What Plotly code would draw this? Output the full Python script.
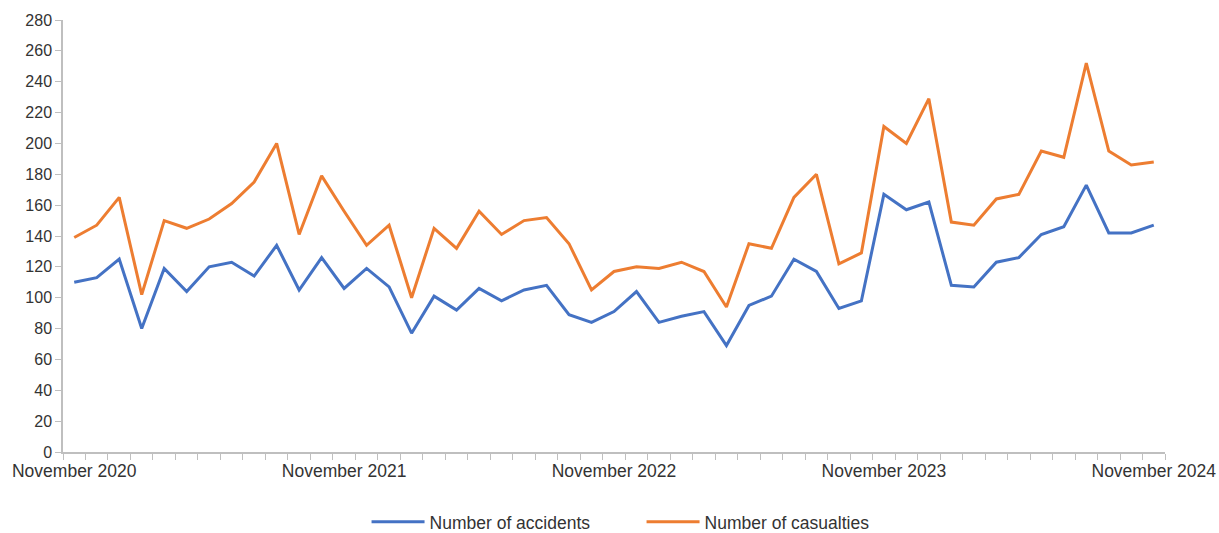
import plotly.graph_objects as go

months = [f"{m} {y}" for y, ms in [(2020, ["November", "December"]),
                                    (2021, ["January", "February", "March", "April", "May", "June", "July", "August", "September", "October", "November", "December"]),
                                    (2022, ["January", "February", "March", "April", "May", "June", "July", "August", "September", "October", "November", "December"]),
                                    (2023, ["January", "February", "March", "April", "May", "June", "July", "August", "September", "October", "November", "December"]),
                                    (2024, ["January", "February", "March", "April", "May", "June", "July", "August", "September", "October", "November"])]
          for m in ms]

accidents = [110, 113, 125, 80, 119, 104, 120, 123, 114, 134, 105, 126,
             106, 119, 107, 77, 101, 92, 106, 98, 105, 108, 89, 84,
             91, 104, 84, 88, 91, 69, 95, 101, 125, 117, 93, 98,
             167, 157, 162, 108, 107, 123, 126, 141, 146, 173, 142, 142,
             147]

casualties = [139, 147, 165, 102, 150, 145, 151, 161, 175, 200, 141, 179,
              156, 134, 147, 100, 145, 132, 156, 141, 150, 152, 135, 105,
              117, 120, 119, 123, 117, 94, 135, 132, 165, 180, 122, 129,
              211, 200, 229, 149, 147, 164, 167, 195, 191, 252, 195, 186,
              188]

label_months = ["November 2020", "November 2021", "November 2022", "November 2023", "November 2024"]

idx = list(range(len(months)))
label_idx = [months.index(m) for m in label_months]
boundaries = [i - 0.5 for i in range(len(months) + 1)]

fig = go.Figure()
fig.add_trace(go.Scatter(x=idx, y=accidents, mode="lines", name="Number of accidents",
                         line=dict(color="#4472C4", width=3), text=months,
                         hovertemplate="%{text}: %{y}<extra></extra>"))
fig.add_trace(go.Scatter(x=idx, y=casualties, mode="lines", name="Number of casualties",
                         line=dict(color="#ED7D31", width=3), text=months, xaxis="x2",
                         hovertemplate="%{text}: %{y}<extra></extra>"))

axis_color = "#BFBFBF"
family = "Liberation Sans, Arial, sans-serif"
ytick_font = dict(family=family, size=16, color="#333333")
xtick_font = dict(family=family, size=17.5, color="#333333")

fig.update_layout(
    width=1219, height=533,
    margin=dict(l=63, r=54, t=20, b=81, autoexpand=False),
    paper_bgcolor="white", plot_bgcolor="white",
    font=xtick_font,
    showlegend=True,
    legend=dict(orientation="h", x=0.525, xanchor="center", y=-0.162, yanchor="middle",
                font=xtick_font, itemwidth=53, entrywidth=207, tracegroupgap=0,
                borderwidth=0),
    xaxis=dict(range=[-0.5, len(months) - 0.5], tickmode="array", tickvals=boundaries,
               showticklabels=False, ticks="outside", ticklen=6, tickcolor=axis_color,
               showline=True, linecolor=axis_color, linewidth=1.5, showgrid=False,
               zeroline=False, automargin=False),
    xaxis2=dict(range=[-0.5, len(months) - 0.5], overlaying="x", side="bottom",
                tickmode="array", tickvals=label_idx, ticktext=label_months,
                ticks="outside", ticklen=3, tickcolor="rgba(0,0,0,0)",
                showline=False, showgrid=False, zeroline=False, tickfont=xtick_font,
                automargin=False),
    yaxis=dict(range=[0, 280], dtick=20, tick0=0, ticks="outside", ticklen=6,
               tickcolor=axis_color, showline=True, linecolor=axis_color, linewidth=1.5,
               showgrid=False, zeroline=False, tickfont=ytick_font, automargin=False),
)

fig.write_html("out.html",
               config={"displayModeBar": False},
               post_script="document.body.style.margin='0';document.body.style.overflow='hidden';")
